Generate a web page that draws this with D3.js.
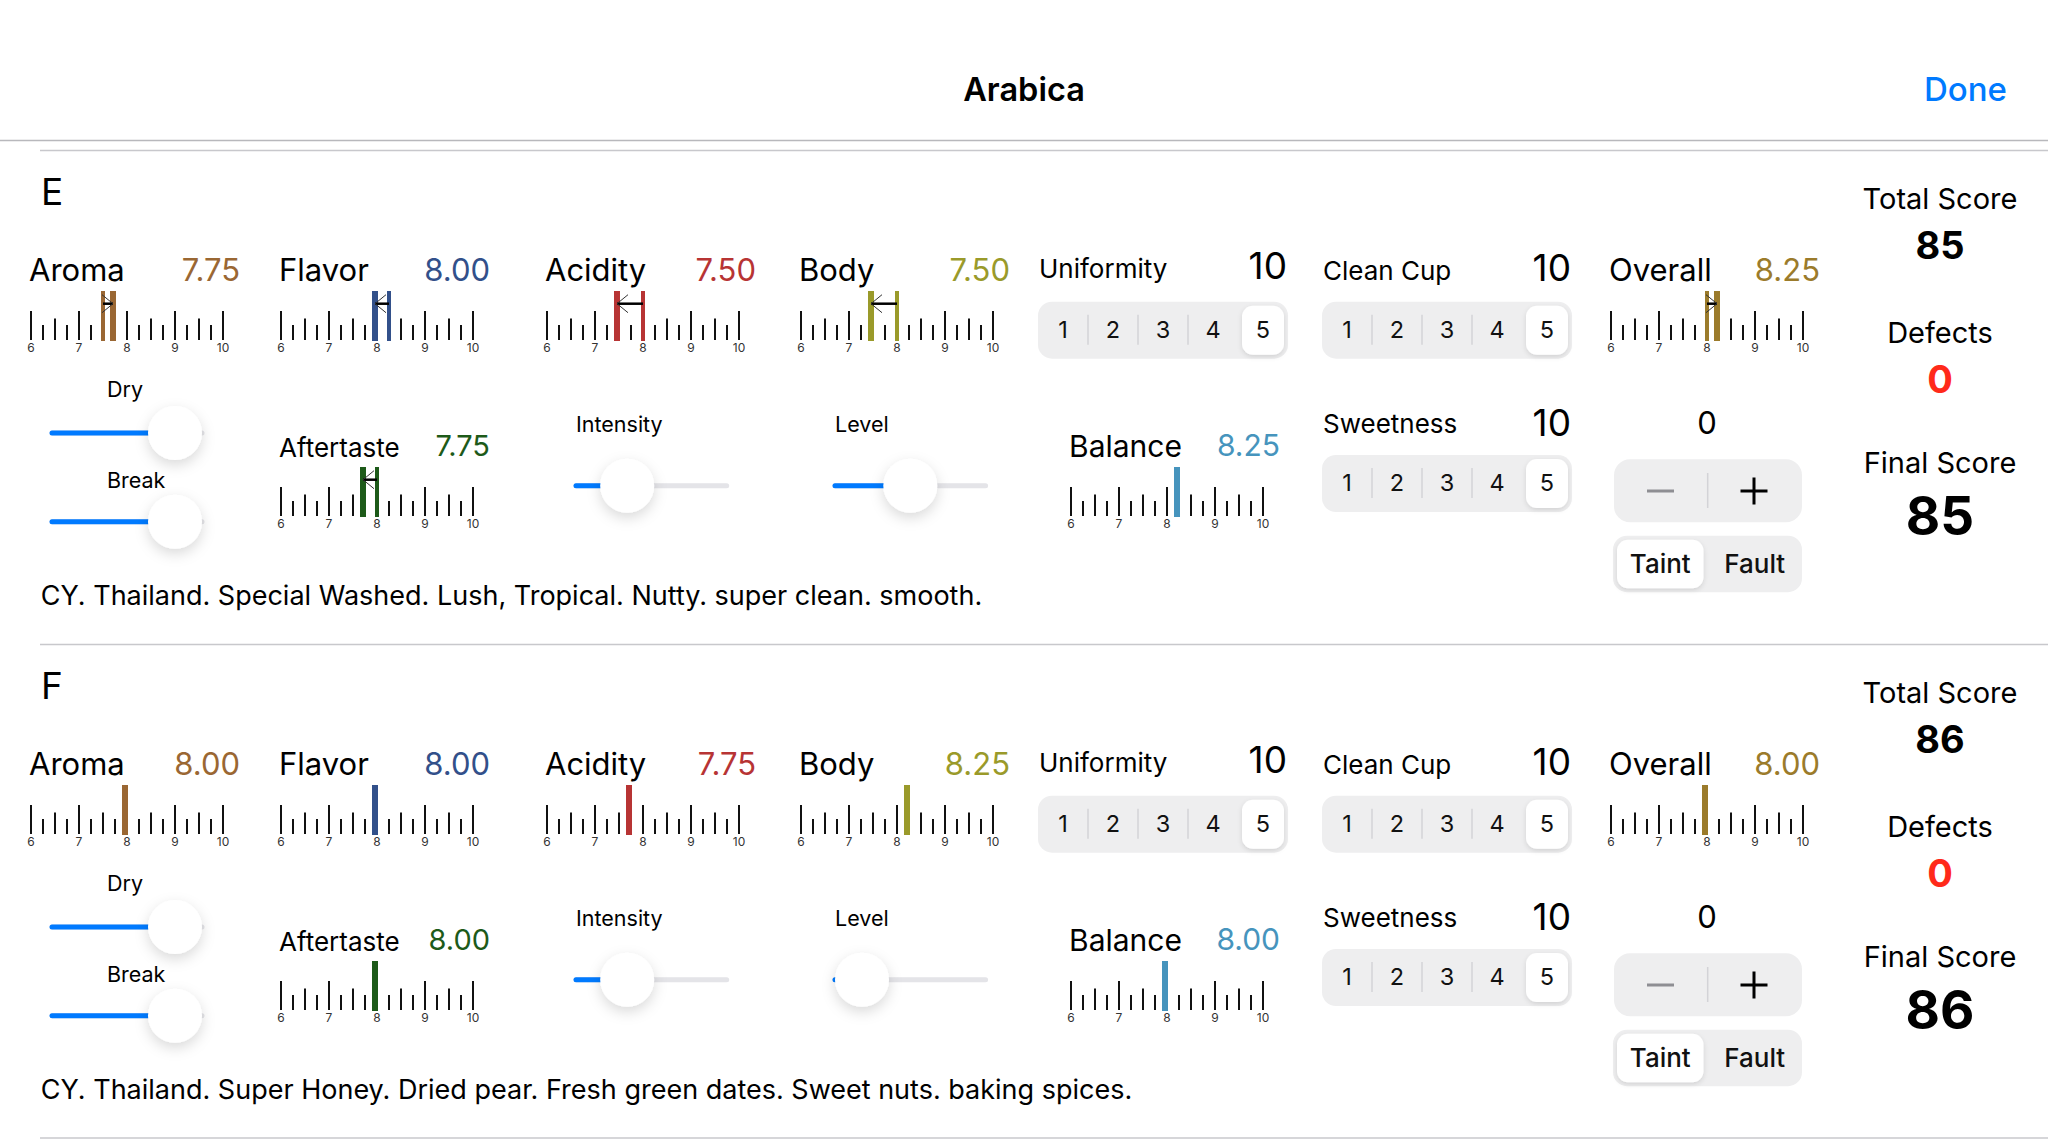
<!DOCTYPE html>
<html>
<head>
<meta charset="utf-8">
<script src="https://cdn.jsdelivr.net/npm/d3@7"></script>
<style>
  body { margin: 0; background: #fff; }
  svg { display: block; font-family: Inter, "Noto Sans", sans-serif; }
</style>
</head>
<body>
<svg id="chart" width="2048" height="1147"></svg>
<script>
// ---- data ----
const samples = ["E", "F"];
const attributes = ["Aroma", "Flavor", "Acidity", "Body", "Overall", "Aftertaste", "Balance"];
const scoresE = [7.75, 8.00, 7.50, 7.50, 8.25, 7.75, 8.25];
const scoresF = [8.00, 8.00, 7.75, 8.25, 8.00, 8.00, 8.00];
// earlier score shown as thin marker + arrow (null = none)
const priorE = [7.50, 8.25, 8.00, 8.00, 8.00, 8.00, null];
const priorF = [null, null, null, null, null, null, null];
const cupAttributes = ["Uniformity", "Clean Cup", "Sweetness"];
const cupScoresE = [10, 10, 10];
const cupScoresF = [10, 10, 10];
const cupsCheckedE = [5, 5, 5];
const cupsCheckedF = [5, 5, 5];
const cupLabels = ["1", "2", "3", "4", "5"];
const rulerTicks = [6, 7, 8, 9, 10];
const dryValues = [1, 1];
const breakValues = [1, 1];
const intensityValues = [0.25, 0.25];
const levelValues = [0.5, 0];
const defectCounts = [0, 0];
const defectTypes = ["Taint", "Fault"];
const totalScores = [85, 86];
const defectScores = [0, 0];
const finalScores = [85, 86];
const notes = [
  "CY. Thailand. Special Washed. Lush, Tropical. Nutty. super clean. smooth.",
  "CY. Thailand. Super Honey. Dried pear. Fresh green dates. Sweet nuts. baking spices."
];

// ---- styling / layout ----
const attrColor = {
  Aroma: "#9a6733", Flavor: "#32508a", Acidity: "#b73434", Body: "#9a9a2a",
  Overall: "#9b7b2b", Aftertaste: "#1d5a19", Balance: "#4694bd"
};
// x of the "6" tick, row, label size, value size
const rulerLayout = {
  Aroma: [31, 0, 31, 31], Flavor: [281, 0, 31, 31], Acidity: [547, 0, 31, 31],
  Body: [801, 0, 31, 31], Overall: [1611, 0, 31, 31],
  Aftertaste: [281, 1, 26, 29], Balance: [1071, 1, 30, 30]
};
const cupLayout = {
  Uniformity: { x: 1038, y: 151.7, labelY: 128, numY: 128.5 },
  "Clean Cup": { x: 1322, y: 151.7, labelY: 130, numY: 131 },
  Sweetness: { x: 1322, y: 305, labelY: 282.7, numY: 285.5 }
};

const svg = d3.select("#chart");
const defs = svg.append("defs");
const knobShadow = defs.append("filter").attr("id", "knobShadow")
  .attr("x", "-80%").attr("y", "-80%").attr("width", "260%").attr("height", "280%");
knobShadow.append("feDropShadow").attr("dx", 0).attr("dy", 5).attr("stdDeviation", 7)
  .attr("flood-color", "#000").attr("flood-opacity", 0.15);
const segShadow = defs.append("filter").attr("id", "segShadow")
  .attr("x", "-30%").attr("y", "-30%").attr("width", "160%").attr("height", "170%");
segShadow.append("feDropShadow").attr("dx", 0).attr("dy", 2).attr("stdDeviation", 2.5)
  .attr("flood-color", "#000").attr("flood-opacity", 0.12);

svg.append("rect").attr("width", 2048).attr("height", 1147).attr("fill", "#fff");

// nav bar
svg.append("text").attr("x", 1024).attr("y", 101).attr("text-anchor", "middle")
  .attr("font-size", 32.5).attr("font-weight", 600).text("Arabica");
svg.append("text").attr("x", 2007).attr("y", 101).attr("text-anchor", "end")
  .attr("font-size", 33).attr("font-weight", 500).attr("fill", "#007aff").text("Done");
svg.append("line").attr("x1", 0).attr("x2", 2048).attr("y1", 140.5).attr("y2", 140.5)
  .attr("stroke", "#b8b8bc").attr("stroke-width", 1.5);

const x = d3.scaleLinear().domain([6, 10]).range([0, 192]);
const minorTicks = d3.range(6, 10.001, 0.25);

function drawRuler(g, attr, value, prior) {
  const [x0, row, labelSize, valueSize] = rulerLayout[attr];
  const color = attrColor[attr];
  const r = g.append("g").attr("transform", `translate(${x0},${141 + row * 176})`);

  r.append("text").attr("x", -2).attr("y", -10).attr("font-size", labelSize).text(attr);
  r.append("text").attr("x", 209).attr("y", row ? -11 : -10).attr("text-anchor", "end")
    .attr("font-size", valueSize).attr("fill", color).text(value.toFixed(2));

  r.selectAll("line.tick").data(minorTicks).join("line").attr("class", "tick")
    .attr("x1", d => x(d)).attr("x2", d => x(d))
    .attr("y1", d => d % 1 === 0 ? 20 : (d % 0.5 === 0 ? 27.5 : 34)).attr("y2", 49)
    .attr("stroke", "#111").attr("stroke-width", 2);
  r.selectAll("text.lbl").data(rulerTicks).join("text").attr("class", "lbl")
    .attr("x", d => x(d)).attr("y", 61).attr("text-anchor", "middle")
    .attr("font-size", 12).attr("fill", "#333").text(d => d);

  r.append("rect").attr("x", x(value) - 5).attr("y", 0).attr("width", 6).attr("height", 50)
    .attr("fill", color);

  if (prior != null) {
    r.append("rect").attr("x", x(prior) - 2).attr("y", 0).attr("width", 4).attr("height", 50)
      .attr("fill", color);
    const from = x(prior), apex = x(value) - 2;
    const dir = apex > from ? 1 : -1;
    const ay = 12.7;
    r.append("line").attr("x1", from).attr("x2", apex).attr("y1", ay).attr("y2", ay)
      .attr("stroke", "#000").attr("stroke-width", 2.5);
    [-1, 1].forEach(s => {
      r.append("line").attr("x1", apex).attr("y1", ay)
        .attr("x2", apex - dir * 11).attr("y2", ay + s * 9)
        .attr("stroke", "#333").attr("stroke-width", 1);
    });
  }
}

function drawSlider(g, x1, x2, y, v) {
  const s = d3.scaleLinear().domain([0, 1]).range([x1 + 27, x2 - 27]);
  const cx = s(v);
  g.append("line").attr("x1", x1).attr("x2", x2).attr("y1", y).attr("y2", y)
    .attr("stroke", "#e4e4e8").attr("stroke-width", 5).attr("stroke-linecap", "round");
  g.append("line").attr("x1", x1).attr("x2", cx).attr("y1", y).attr("y2", y)
    .attr("stroke", "#007aff").attr("stroke-width", 5).attr("stroke-linecap", "round");
  g.append("circle").attr("cx", cx).attr("cy", y).attr("r", 27)
    .attr("fill", "#fff").attr("filter", "url(#knobShadow)");
}

function drawSegmented(g, x0, y0, w, h, labels, selected, fontSize, weight, baseline) {
  const band = d3.scaleBand().domain(labels).range([0, w]);
  const c = g.append("g").attr("transform", `translate(${x0},${y0})`);
  c.append("rect").attr("width", w).attr("height", h).attr("rx", 14).attr("fill", "#eeeeef");
  labels.slice(1).forEach((d, k) => {
    const prev = labels[k];
    if (prev === selected || d === selected) return;
    c.append("line").attr("x1", band(d)).attr("x2", band(d)).attr("y1", 13).attr("y2", h - 14)
      .attr("stroke", "#d3d3d7").attr("stroke-width", 1.5);
  });
  c.append("rect").attr("x", band(selected) + 4).attr("y", 4)
    .attr("width", band.bandwidth() - 8).attr("height", h - 8).attr("rx", 11)
    .attr("fill", "#fff").attr("filter", "url(#segShadow)");
  c.selectAll("text.seg").data(labels).join("text").attr("class", "seg")
    .attr("x", d => band(d) + band.bandwidth() / 2).attr("y", baseline)
    .attr("text-anchor", "middle").attr("font-size", fontSize).attr("font-weight", weight)
    .attr("fill", "#111").text(d => d);
}

const sampleScores = [scoresE, scoresF];
const samplePrior = [priorE, priorF];
const sampleCups = [cupScoresE, cupScoresF];
const sampleChecked = [cupsCheckedE, cupsCheckedF];

samples.forEach((name, i) => {
  const sy = 150 + i * 494;
  const g = svg.append("g").attr("transform", `translate(0,${sy})`);

  g.append("line").attr("x1", 40).attr("x2", 2048).attr("y1", 0.5).attr("y2", 0.5)
    .attr("stroke", "#c8c8cc").attr("stroke-width", 1.5);
  g.append("text").attr("x", 41).attr("y", 55).attr("font-size", 37).text(name);

  attributes.forEach((attr, k) => drawRuler(g, attr, sampleScores[i][k], samplePrior[i][k]));

  // fragrance sliders
  g.append("text").attr("x", 107).attr("y", 246.7).attr("font-size", 21.5).text("Dry");
  drawSlider(g, 52, 202, 283, dryValues[i]);
  g.append("text").attr("x", 107).attr("y", 338.3).attr("font-size", 21.5).text("Break");
  drawSlider(g, 52, 202, 371.7, breakValues[i]);

  g.append("text").attr("x", 576).attr("y", 281.7).attr("font-size", 21.5).text("Intensity");
  drawSlider(g, 576, 726.7, 335.7, intensityValues[i]);
  g.append("text").attr("x", 835).attr("y", 281.7).attr("font-size", 21.5).text("Level");
  drawSlider(g, 835, 985.6, 335.7, levelValues[i]);

  // cup based attributes
  cupAttributes.forEach((attr, k) => {
    const c = cupLayout[attr];
    g.append("text").attr("x", c.x + 1).attr("y", c.labelY).attr("font-size", 26).text(attr);
    g.append("text").attr("x", c.x + 249).attr("y", c.numY).attr("text-anchor", "end")
      .attr("font-size", 37).text(sampleCups[i][k]);
    drawSegmented(g, c.x, c.y, 250, 57, cupLabels, cupLabels[sampleChecked[i][k] - 1],
      23.5, 400, 36.3);
  });

  // defects
  g.append("text").attr("x", 1707).attr("y", 284).attr("text-anchor", "middle")
    .attr("font-size", 31).text(defectCounts[i]);
  g.append("rect").attr("x", 1614).attr("y", 309.3).attr("width", 188).attr("height", 63)
    .attr("rx", 16).attr("fill", "#eeeeef");
  g.append("line").attr("x1", 1707.7).attr("x2", 1707.7).attr("y1", 323).attr("y2", 358)
    .attr("stroke", "#d3d3d7").attr("stroke-width", 1.5);
  g.append("line").attr("x1", 1647).attr("x2", 1674).attr("y1", 341).attr("y2", 341)
    .attr("stroke", "#8e8e93").attr("stroke-width", 3);
  g.append("line").attr("x1", 1740.5).attr("x2", 1767.5).attr("y1", 341).attr("y2", 341)
    .attr("stroke", "#000").attr("stroke-width", 3);
  g.append("line").attr("x1", 1754).attr("x2", 1754).attr("y1", 327.5).attr("y2", 354.5)
    .attr("stroke", "#000").attr("stroke-width", 3);
  drawSegmented(g, 1613, 385.7, 189, 56.5, defectTypes, defectTypes[0], 26, 500, 37.6);

  // score column
  const cx = 1940;
  const col = [
    ["Total Score", 59, 29, 400, "#000"],
    [totalScores[i], 109.3, 38, 700, "#000"],
    ["Defects", 192.7, 29, 400, "#000"],
    [defectScores[i], 242.7, 38, 700, "#ff2a1a"],
    ["Final Score", 322.7, 29, 400, "#000"],
    [finalScores[i], 385, 53, 700, "#000"]
  ];
  col.forEach(([t, y, fs, fw, fill]) => {
    g.append("text").attr("x", cx).attr("y", y).attr("text-anchor", "middle")
      .attr("font-size", fs).attr("font-weight", fw).attr("fill", fill).text(t);
  });

  g.append("text").attr("x", 40.7).attr("y", 455).attr("font-size", 27).text(notes[i]);
});

svg.append("line").attr("x1", 40).attr("x2", 2048).attr("y1", 1138).attr("y2", 1138)
  .attr("stroke", "#c8c8cc").attr("stroke-width", 1.5);
</script>
</body>
</html>
